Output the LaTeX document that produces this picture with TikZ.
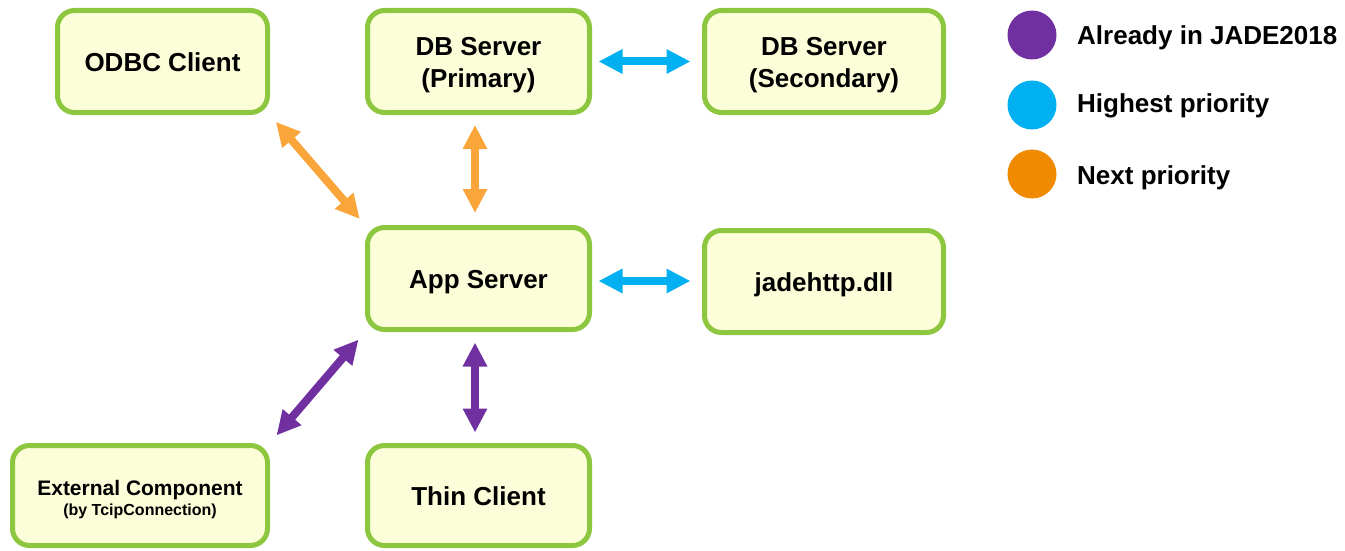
\documentclass[tikz,border=0pt]{standalone}
\usepackage{fontspec}
\setmainfont{Liberation Sans}
\usetikzlibrary{arrows.meta}
\definecolor{boxfill}{HTML}{FBFED9}
\definecolor{boxline}{HTML}{8DC63F}
\definecolor{arrorange}{HTML}{FAA53A}
\definecolor{legorange}{HTML}{F08A00}
\definecolor{arrblue}{HTML}{00B0F0}
\definecolor{arrpurple}{HTML}{7030A0}
\tikzset{
  compbox/.style={draw=boxline, fill=boxfill, line width=5pt, rounded corners=17pt,
    minimum width=#1, minimum height=102pt, inner sep=0pt, align=center,
    font=\bfseries\fontsize{26}{32}\selectfont},
  oneline/.style={text height=20pt, text depth=0pt},
  twoline/.style={text height=#1, text depth=0pt},
  link/.style={line width=8pt, draw=#1, {Triangle[width=23pt,length=24pt]}-{Triangle[width=23pt,length=24pt]}},
  legdot/.style={circle, fill=#1, minimum size=49pt, inner sep=0pt},
  legtext/.style={anchor=base west, inner sep=0pt, font=\bfseries\fontsize{26}{30}\selectfont}
}
\begin{document}
\begin{tikzpicture}[x=1pt, y=-1pt]
\useasboundingbox (0,0) rectangle (1345,551);
\node[compbox=210pt, oneline] (odbc) at (162.5,61.5) {ODBC Client};
\node[compbox=222pt, twoline=52pt] (dbp) at (478.5,61.5) {DB Server\\(Primary)};
\node[compbox=239pt, twoline=52pt] (dbs) at (824,61.5) {DB Server\\(Secondary)};
\node[compbox=222pt, oneline] (app) at (478.5,278.5) {App Server};
\node[compbox=239pt, oneline] (http) at (824,281.5) {jadehttp.dll};
\node[compbox=255pt, minimum height=100pt, twoline=40pt] (ext) at (140,495.5)
  {\fontsize{21}{24}\selectfont External Component\\[-12pt]{\fontsize{16}{18}\selectfont (by TcipConnection)}};
\node[compbox=222pt, minimum height=100pt, oneline] (thin) at (478.5,495.5) {Thin Client};

\draw[link=arrorange, shorten <=9pt, shorten >=8pt] (odbc.south east) -- (app.north west);
\draw[link=arrorange, shorten <=10pt, shorten >=12pt] ([xshift=-3.5pt]dbp.south) -- ([xshift=-3.5pt]app.north);
\draw[link=arrblue, shorten <=6.5pt, shorten >=11.5pt] (dbp.east) -- (dbs.west);
\draw[link=arrblue, shorten <=6.5pt, shorten >=11.5pt] ([yshift=-2.5pt]app.east) -- ([yshift=0.5pt]http.west);
\draw[link=arrpurple, shorten <=10.5pt, shorten >=10.5pt] ([xshift=-3.5pt]app.south) -- ([xshift=-3.5pt]thin.north);
\draw[link=arrpurple, shorten <=10pt, shorten >=10pt] (app.south west) -- (ext.north east);

\node[legdot=arrpurple] (d1) at (1032,35) {};
\node[legdot=arrblue] (d2) at (1032,105) {};
\node[legdot=legorange] (d3) at (1032,174) {};
\node[legtext] (t1) at (1077,44.5) {Already in JADE2018};
\node[legtext] (t2) at (1077,112) {Highest priority};
\node[legtext] (t3) at (1077,184) {Next priority};
\end{tikzpicture}
\end{document}
